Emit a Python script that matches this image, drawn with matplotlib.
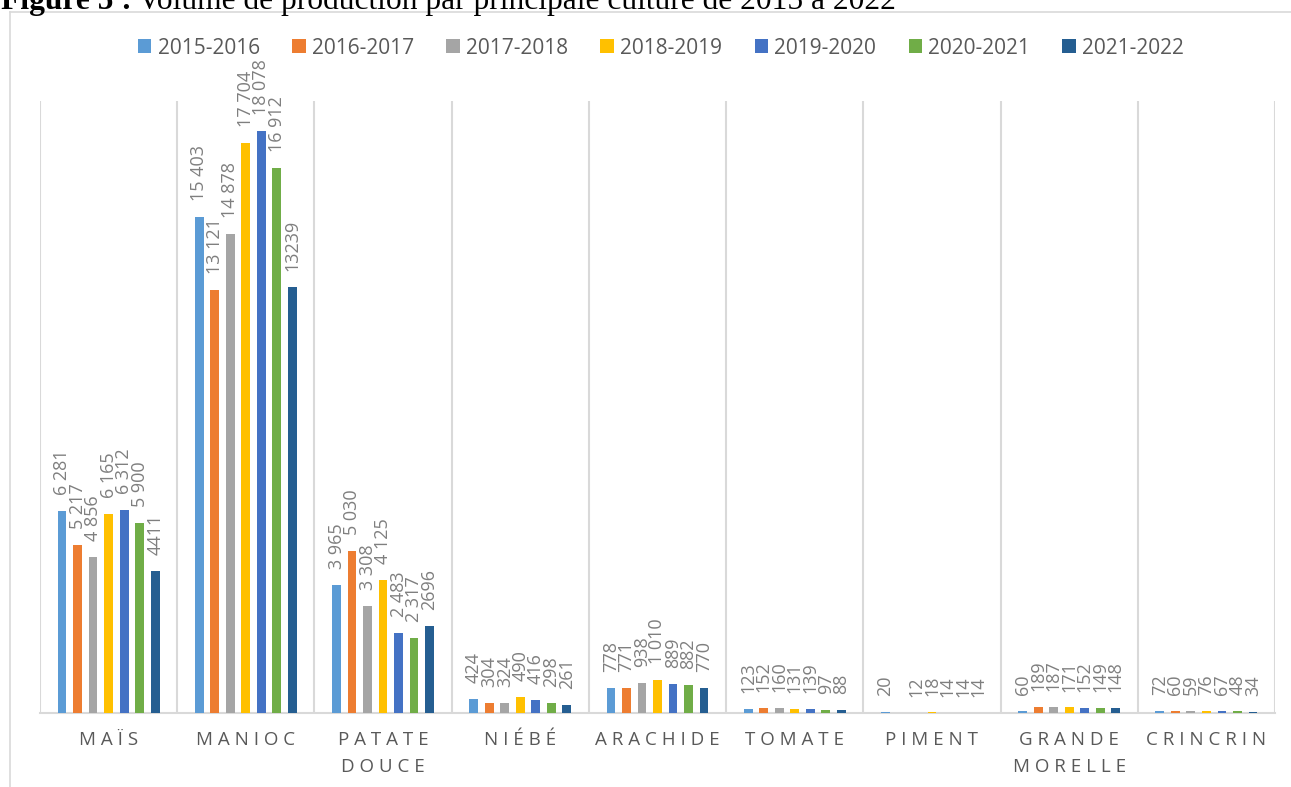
import matplotlib.pyplot as plt
import numpy as np

# data
categories = ["MAÏS", "MANIOC", "PATATE\nDOUCE", "NIÉBÉ", "ARACHIDE", "TOMATE",
              "PIMENT", "GRANDE\nMORELLE", "CRINCRIN"]
seasons = ["2015-2016", "2016-2017", "2017-2018", "2018-2019",
           "2019-2020", "2020-2021", "2021-2022"]
v2015 = [6281, 15403, 3965, 424, 778, 123, 20, 60, 72]
v2016 = [5217, 13121, 5030, 304, 771, 152, np.nan, 189, 60]
v2017 = [4856, 14878, 3308, 324, 938, 160, 12, 187, 59]
v2018 = [6165, 17704, 4125, 490, 1010, 131, 18, 171, 76]
v2019 = [6312, 18078, 2483, 416, 889, 139, 14, 152, 67]
v2020 = [5900, 16912, 2317, 298, 882, 97, 14, 149, 48]
v2021 = [4411, 13239, 2696, 261, 770, 88, 14, 148, 34]
series = [v2015, v2016, v2017, v2018, v2019, v2020, v2021]

colors = ["#5B9BD5", "#ED7D31", "#A5A5A5", "#FFC000", "#4472C4", "#70AD47", "#255E91"]
grid_col = "#D9D9D9"
text_col = "#595959"
label_col = "#7F7F7F"

plt.rcParams['font.family'] = ['Open Sans', 'DejaVu Sans']

fig = plt.figure(figsize=(12.91, 7.87), dpi=100)
W, H = 1291, 787
ax = fig.add_axes([40 / W, (H - 713) / H, (1275 - 40) / W, (713 - 101) / H])

x = np.arange(len(categories))
step = 0.113
width = 0.064
for i, vals in enumerate(series):
    vals = np.array(vals, dtype=float)
    xs = x + (i - 3) * step
    ax.bar(xs, vals, width=width, color=colors[i], label=seasons[i], zorder=3)
    for xi, v in zip(xs, vals):
        if np.isnan(v):
            continue
        if i < 6:
            txt = f"{int(v):,}".replace(",", " ")
        else:
            txt = f"{int(v)}"
        ax.annotate(txt, (xi, v), xytext=(0, 11.5), textcoords="offset points",
                    rotation=90, ha="center", va="bottom", fontsize=13,
                    color=label_col, zorder=4)

ax.set_xlim(-0.5, len(categories) - 0.5)
ax.set_ylim(0, 19000)
for b in np.arange(-0.5, len(categories), 1.0):
    ax.axvline(b, color=grid_col, lw=1.5, zorder=1)

for s in ["top", "right", "left"]:
    ax.spines[s].set_visible(False)
ax.spines["bottom"].set_color(grid_col)
ax.spines["bottom"].set_linewidth(1.5)
ax.set_yticks([])
ax.set_xticks(x)
spaced = ["\n".join(" ".join(w) for w in c.split("\n")) for c in categories]
ax.set_xticklabels(spaced, fontsize=13.5, color=text_col, linespacing=1.65)
ax.tick_params(axis="x", length=0, pad=13)

leg = fig.legend(loc="center", bbox_to_anchor=(661 / W, (H - 48) / H), ncol=7,
                 frameon=False, fontsize=15, handlelength=0.65, handleheight=0.65,
                 handletextpad=0.3, columnspacing=1.55, labelcolor=text_col)

# outer chart border (top and left visible)
fig.add_artist(plt.Line2D([10 / W, 10 / W], [0, (H - 12) / H], color=grid_col, lw=1.2))
fig.add_artist(plt.Line2D([10 / W, 1], [(H - 12) / H, (H - 12) / H], color=grid_col, lw=1.2))

# title, cut off at the top in the reference
t1 = fig.text(1 / W, (H - 9) / H, "Figure 5 :", fontsize=22.7, fontweight="bold",
              family="Liberation Serif", va="baseline", ha="left")
fig.canvas.draw()
bb = t1.get_window_extent()
fig.text((bb.x1 + 6) / W, (H - 9) / H,
         "Volume de production par principale culture de 2015 à 2022",
         fontsize=22.7, family="Liberation Serif", va="baseline", ha="left")

fig.savefig("out.png", dpi=100)
